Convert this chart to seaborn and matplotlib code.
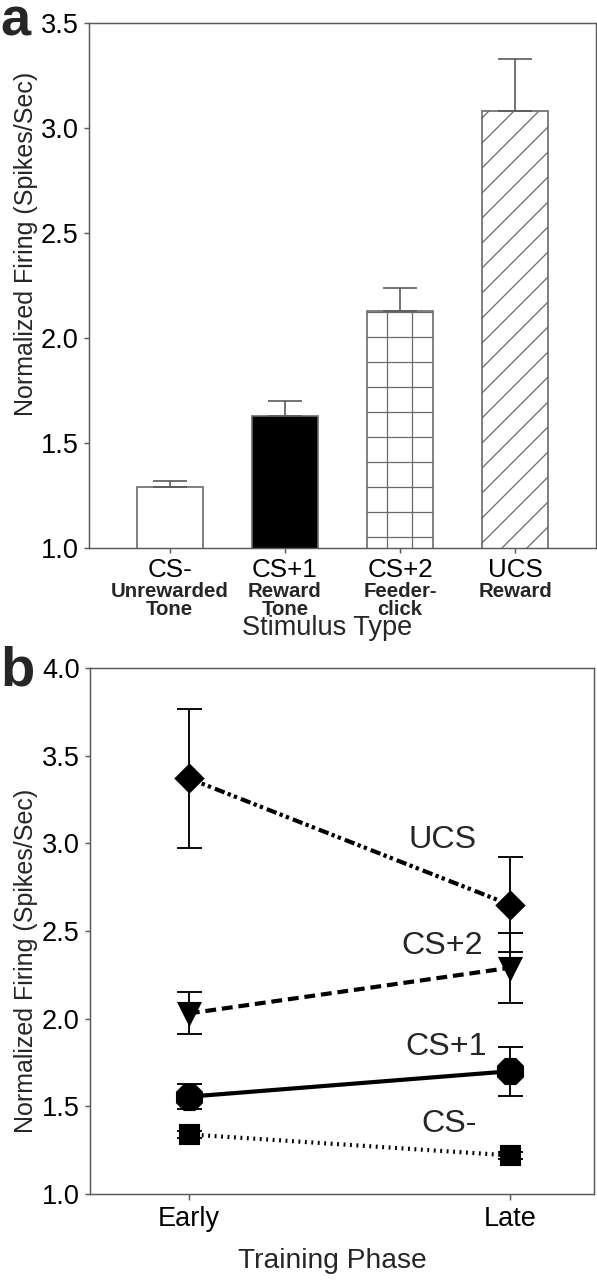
import numpy as np
import seaborn as sns
import matplotlib.pyplot as plt
import matplotlib.transforms as mtransforms

# ---- data: panel a (bar chart) ----
stim_names = ["CS-", "CS+1", "CS+2", "UCS"]
stim_sub = ["Unrewarded\nTone", "Reward\nTone", "Feeder-\nclick", "Reward"]
bar_means = [1.29, 1.63, 2.13, 3.08]
bar_sem = [0.03, 0.07, 0.11, 0.25]

# ---- data: panel b (training phase) ----
phases = ["Early", "Late"]
ucs_means = [3.37, 2.65]
ucs_sem = [0.395, 0.27]
csp2_means = [2.03, 2.29]
csp2_sem = [0.12, 0.20]
csp1_means = [1.555, 1.70]
csp1_sem = [0.07, 0.14]
csm_means = [1.34, 1.22]
csm_sem = [0.02, 0.02]

# figure is drawn at 300 dpi so the hatch spacing can be tuned;
# every size below is written for 150 dpi and scaled by S
DPI = 300
S = 150 / DPI

sns.set_style("ticks")
plt.rcParams['font.family'] = ['Liberation Sans', 'DejaVu Sans']
plt.rcParams['hatch.linewidth'] = 0.6 * S

SPINE = '#5a5a5a'
EDGE = '#6a6a6a'

fig = plt.figure(figsize=(597 / DPI, 1280 / DPI), dpi=DPI)
ax_a = fig.add_axes([89 / 597, 1 - 548 / 1280, 507 / 597, 525 / 1280])
ax_b = fig.add_axes([90 / 597, 1 - 1194 / 1280, 504 / 597, 526 / 1280])

# ---------------- panel a ----------------
sns.barplot(x=stim_names, y=bar_means, hue=stim_names,
            palette=['white', 'black', 'white', 'white'], legend=False,
            width=0.574, edgecolor=EDGE, linewidth=0.8 * S, errorbar=None, ax=ax_a)
for cont, h in zip(ax_a.containers, [None, None, '++', '////']):
    for bar in cont:
        bar.set_hatch(h)
        bar.set_edgecolor(EDGE)

ax_a.errorbar(range(len(stim_names)), bar_means,
              yerr=[np.zeros(len(bar_sem)), bar_sem], fmt='none',
              ecolor=SPINE, elinewidth=0.8 * S, capsize=8 * S,
              capthick=0.8 * S, zorder=3)

ax_a.set_xlim(-0.7, 3.7)
ax_a.set_ylim(1.0, 3.5)
ax_a.set_yticks(np.arange(1.0, 3.51, 0.5))
ax_a.set_yticklabels([f"{v:.1f}" for v in np.arange(1.0, 3.51, 0.5)], fontsize=13 * S)
ax_a.set_xticks(range(len(stim_names)))
ax_a.set_xticklabels(stim_names, fontsize=12.5 * S)

trans = mtransforms.blended_transform_factory(ax_a.transData, ax_a.transAxes)
for i, sub in enumerate(stim_sub):
    ax_a.text(i, -0.064, sub, transform=trans, ha='center', va='top',
              fontsize=9.8 * S, fontweight='bold', linespacing=0.95)

ax_a.set_xlabel("Stimulus Type", fontsize=13 * S)
ax_a.xaxis.set_label_coords(0.47, -0.128)
ax_a.set_ylabel("Normalized Firing (Spikes/Sec)", fontsize=12 * S)
ax_a.yaxis.set_label_coords(-0.10, 0.58)

# ---------------- panel b ----------------
series = [
    ("UCS", ucs_means, ucs_sem, 'D', 9, (0, (2.5, 0.8, 0.8, 0.8, 0.8, 1.0))),
    ("CS+2", csp2_means, csp2_sem, 'v', 10, (0, (2.6, 1.4))),
    ("CS+1", csp1_means, csp1_sem, '8', 12, '-'),
    ("CS-", csm_means, csm_sem, 's', 8.5, (0, (0.45, 1.1))),
]
x_pos = np.arange(len(phases))
for name, means, sem, mk, ms, ls in series:
    ax_b.errorbar(x_pos, means, yerr=sem, fmt='none', ecolor='black',
                  elinewidth=0.9 * S, capsize=6 * S, capthick=0.9 * S, zorder=2)
    sns.lineplot(x=x_pos, y=means, ax=ax_b, color='black', lw=2 * S,
                 linestyle=ls, marker=mk, markersize=ms * S,
                 markeredgecolor='black', markerfacecolor='black',
                 errorbar=None, zorder=3)

label_pos = {"UCS": (0.79, 3.02), "CS+2": (0.79, 2.415),
             "CS+1": (0.80, 1.84), "CS-": (0.81, 1.40)}
for name, (lx, ly) in label_pos.items():
    ax_b.text(lx, ly, name, ha='center', va='center', fontsize=15.5 * S)

ax_b.set_xlim(-0.308, 1.262)
ax_b.set_ylim(1.0, 4.0)
ax_b.set_yticks(np.arange(1.0, 4.01, 0.5))
ax_b.set_yticklabels([f"{v:.1f}" for v in np.arange(1.0, 4.01, 0.5)], fontsize=13 * S)
ax_b.set_xticks(x_pos)
ax_b.set_xticklabels(phases, fontsize=13 * S)
ax_b.set_xlabel("Training Phase", fontsize=13.5 * S)
ax_b.xaxis.set_label_coords(0.48, -0.102)
ax_b.set_ylabel("Normalized Firing (Spikes/Sec)", fontsize=12 * S)
ax_b.yaxis.set_label_coords(-0.103, 0.443)

for ax in (ax_a, ax_b):
    for sp in ax.spines.values():
        sp.set_visible(True)
        sp.set_color(SPINE)
        sp.set_linewidth(0.7 * S)
    ax.tick_params(axis='both', direction='out', length=2.5 * S, width=0.7 * S,
                   color=SPINE, pad=2.5 * S, labelcolor='black')
ax_b.tick_params(axis='x', length=3 * S, pad=3 * S)

fig.text(0.0, 1 - 35 / 1280, "a", fontsize=26 * S, fontweight='bold',
         ha='left', va='baseline')
fig.text(0.0, 1 - 686 / 1280, "b", fontsize=27 * S, fontweight='bold',
         ha='left', va='baseline')

fig.savefig("out.png", dpi=DPI)
